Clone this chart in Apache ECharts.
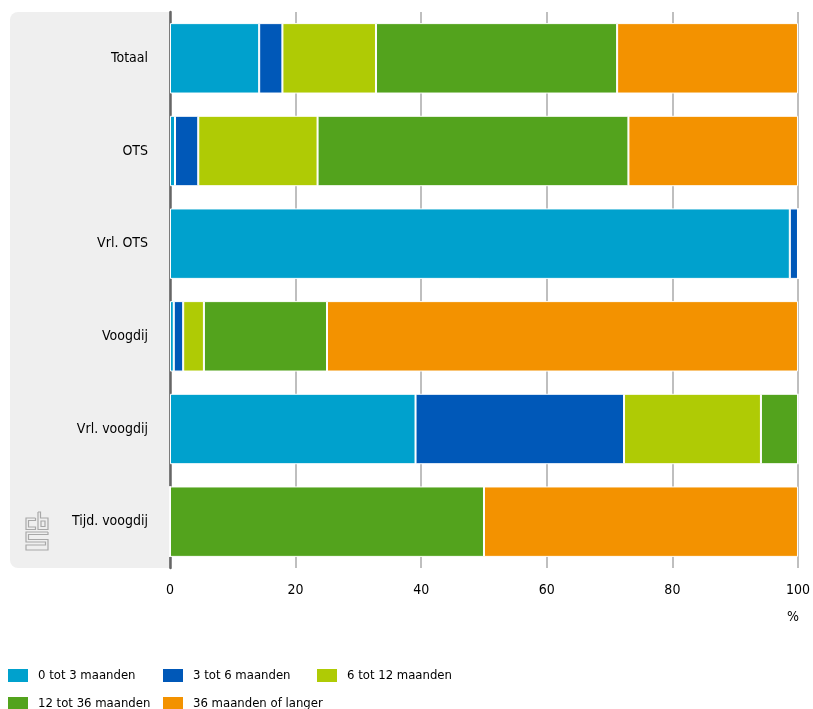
<!DOCTYPE html>
<html>
<head>
<meta charset="utf-8">
<script src="https://cdn.jsdelivr.net/npm/echarts@6/dist/echarts.min.js"></script>
<style>
html,body{margin:0;padding:0;background:#fff;}
#c{width:813px;height:709px;}
</style>
</head>
<body>
<div id="c"></div>
<script>
const categories = ['Totaal', 'OTS', 'Vrl. OTS', 'Voogdij', 'Vrl. voogdij', 'Tijd. voogdij'];
const seriesNames = ['0 tot 3 maanden', '3 tot 6 maanden', '6 tot 12 maanden', '12 tot 36 maanden', '36 maanden of langer'];
const m0_3 = [14.2, 0.8, 98.7, 0.6, 39.1, 0];
const m3_6 = [3.7, 3.7, 1.3, 1.5, 33.2, 0];
const m6_12 = [14.9, 19.0, 0, 3.3, 21.8, 0];
const m12_36 = [38.4, 49.5, 0, 19.6, 5.9, 50];
const m36plus = [28.8, 27.0, 0, 75.0, 0, 50];
const xTicks = [0, 20, 40, 60, 80, 100];
const colors = ['#00a1cd', '#0058b8', '#afcb05', '#53a31d', '#f39200'];

const FONT = '"Liberation Sans Narrow", "DejaVu Sans Condensed", "Roboto Condensed", "Noto Sans", sans-serif';
const values = [m0_3, m3_6, m6_12, m12_36, m36plus];

const chart = echarts.init(document.getElementById('c'), null, {renderer: 'canvas'});

const legendPos = [
  {left: 6, top: 667}, {left: 161, top: 667}, {left: 315, top: 667},
  {left: 6, top: 695}, {left: 161, top: 695}
];

const option = {
  animation: false,
  textStyle: {fontFamily: FONT},
  grid: {left: 170, right: 14, top: 12, bottom: 141, containLabel: false},
  xAxis: {
    type: 'value', min: 0, max: 100, interval: 20,
    axisLine: {show: false}, axisTick: {show: false},
    axisLabel: {color: '#000', fontSize: 14, fontFamily: FONT, margin: 15,
      formatter: v => xTicks.includes(v) ? String(v) : ''},
    splitLine: {show: true, lineStyle: {color: '#aaaaaa', width: 1.5}}
  },
  yAxis: {
    type: 'category', data: categories, inverse: true,
    axisLine: {show: true, lineStyle: {color: '#666666', width: 2.5}},
    axisTick: {show: false},
    axisLabel: {color: '#000', fontSize: 14, fontFamily: FONT, margin: 22}
  },
  legend: legendPos.map((p, i) => ({
    left: p.left, top: p.top, data: [seriesNames[i]],
    icon: 'rect', itemWidth: 22, itemHeight: 15, padding: 0,
    selectedMode: false,
    textStyle: {color: '#000', fontSize: 13, fontFamily: FONT, padding: [0, 0, 0, 4]}
  })),
  series: seriesNames.map((name, i) => ({
    name: name, type: 'bar', stack: 'total',
    data: values[i], barCategoryGap: '24%',
    itemStyle: {color: colors[i], borderColor: '#ffffff', borderWidth: 1}
  })),
  graphic: [
    {type: 'rect', z: -10, shape: {x: 10, y: 12, width: 160, height: 556, r: [8, 0, 0, 8]},
      style: {fill: '#efefef'}},
    {type: 'text', style: {text: '%', x: 793, y: 617, fill: '#000', fontSize: 14, fontFamily: FONT,
      align: 'center', verticalAlign: 'middle'}},
    // CBS logo (simplified)
    {type: 'group', children: [
      {type: 'polyline', shape: {points: [[35.5,518],[26,518],[26,529.5],[35.5,529.5],[35.5,527],[28.5,527],[28.5,520.5],[35.5,520.5],[35.5,518]]},
        style: {stroke: '#a8a8a8', lineWidth: 1.2, fill: null}},
      {type: 'polyline', shape: {points: [[38,512],[40.5,512],[40.5,518],[48,518],[48,529.5],[38,529.5],[38,512]]},
        style: {stroke: '#a8a8a8', lineWidth: 1.2, fill: null}},
      {type: 'rect', shape: {x: 41, y: 521, width: 4, height: 5.5},
        style: {stroke: '#a8a8a8', lineWidth: 1.2, fill: null}},
      {type: 'polyline', shape: {points: [[48,532],[26,532],[26,542],[45.5,542],[45.5,545],[26,545],[26,550],[48,550],[48,539.5],[28.5,539.5],[28.5,534.5],[48,534.5],[48,532]]},
        style: {stroke: '#a8a8a8', lineWidth: 1.2, fill: null}}
    ]}
  ]
};
chart.setOption(option);
</script>
</body>
</html>
